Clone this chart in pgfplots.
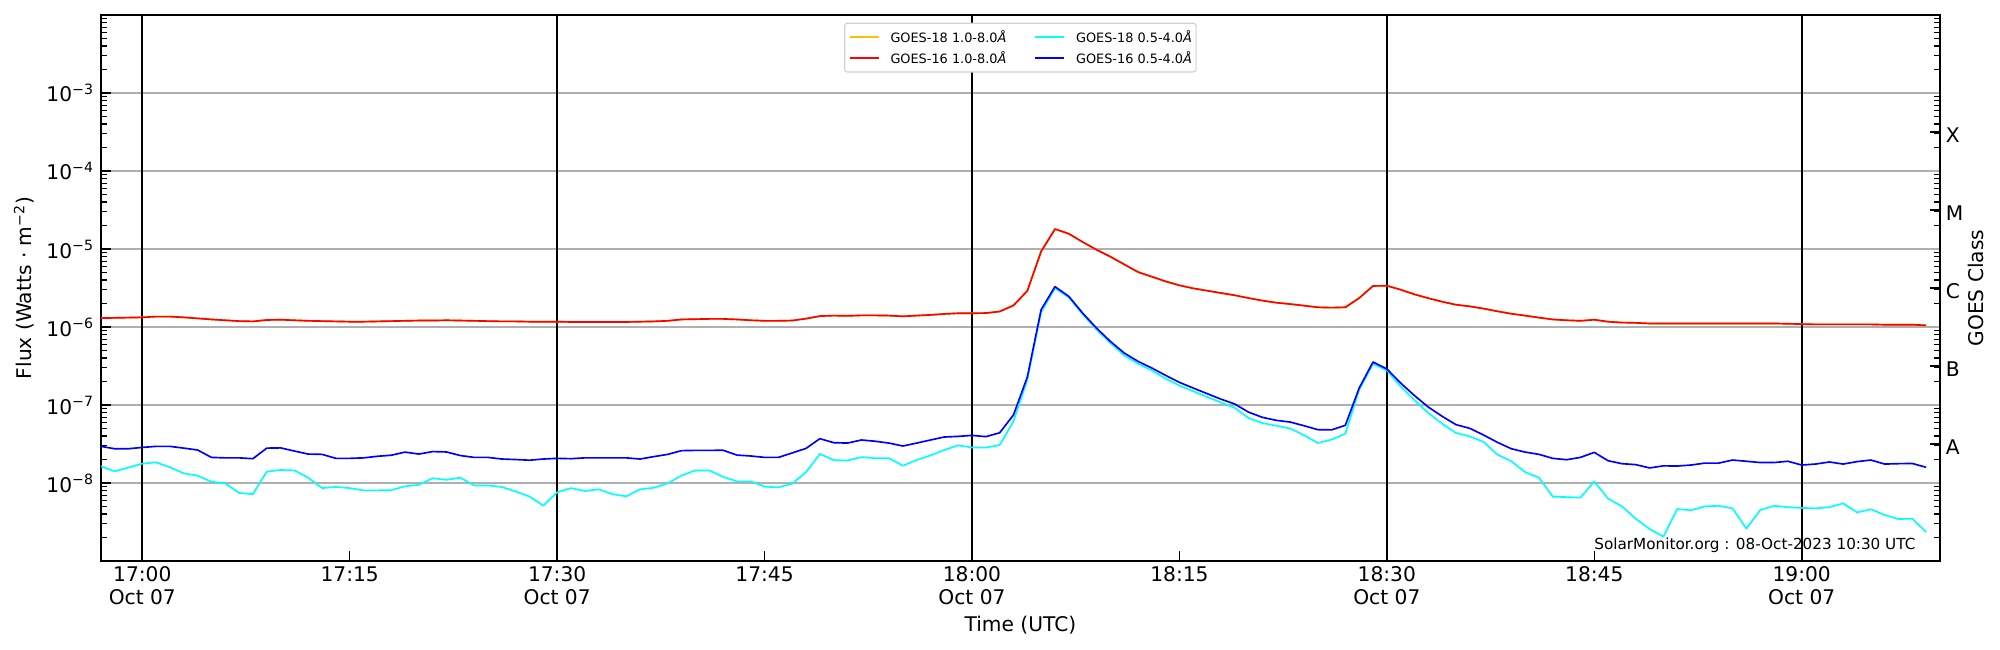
\documentclass[border=0pt]{standalone}
\usepackage{fontspec}
\setmainfont{DejaVu Sans}
\usepackage{pgfplots}
\usepackage{pgfplotstable}
\pgfplotsset{compat=1.18}

\definecolor{goesorange}{RGB}{255,190,0}
\definecolor{goescyan}{RGB}{0,255,255}
\definecolor{goesred}{RGB}{255,0,0}
\definecolor{goesblue}{RGB}{0,0,255}
\definecolor{gridgray}{RGB}{176,176,176}
\definecolor{legframe}{RGB}{210,210,210}
\newcommand{\mfont}{\fontsize{14.6}{16.3}\selectfont}

% GOES-16 1.0-8.0 A (minutes after 17:00 UT, W m^-2)
\pgfplotstableread{
x y
-3 1.30e-6
-2 1.31e-6
-1 1.32e-6
0 1.33e-6
1 1.36e-6
2 1.36e-6
3 1.33e-6
4 1.29e-6
5 1.25e-6
6 1.22e-6
7 1.19e-6
8 1.18e-6
9 1.23e-6
10 1.24e-6
11 1.22e-6
12 1.20e-6
13 1.19e-6
14 1.18e-6
15 1.17e-6
16 1.17e-6
17 1.18e-6
18 1.19e-6
19 1.20e-6
20 1.21e-6
21 1.21e-6
22 1.22e-6
23 1.21e-6
24 1.20e-6
25 1.19e-6
26 1.18e-6
27 1.18e-6
28 1.17e-6
29 1.17e-6
30 1.17e-6
31 1.16e-6
32 1.16e-6
33 1.16e-6
34 1.16e-6
35 1.16e-6
36 1.17e-6
37 1.18e-6
38 1.20e-6
39 1.25e-6
40 1.26e-6
41 1.27e-6
42 1.27e-6
43 1.25e-6
44 1.22e-6
45 1.20e-6
46 1.20e-6
47 1.21e-6
48 1.28e-6
49 1.38e-6
50 1.40e-6
51 1.39e-6
52 1.41e-6
53 1.41e-6
54 1.40e-6
55 1.37e-6
56 1.40e-6
57 1.43e-6
58 1.47e-6
59 1.50e-6
60 1.50e-6
61 1.51e-6
62 1.58e-6
63 1.89e-6
64 2.90e-6
65 9.30e-6
66 1.80e-5
67 1.57e-5
68 1.23e-5
69 9.80e-6
70 7.98e-6
71 6.36e-6
72 5.07e-6
73 4.42e-6
74 3.85e-6
75 3.42e-6
76 3.13e-6
77 2.92e-6
78 2.73e-6
79 2.55e-6
80 2.35e-6
81 2.18e-6
82 2.05e-6
83 1.97e-6
84 1.88e-6
85 1.79e-6
86 1.77e-6
87 1.79e-6
88 2.35e-6
89 3.36e-6
90 3.38e-6
91 3.01e-6
92 2.62e-6
93 2.34e-6
94 2.11e-6
95 1.93e-6
96 1.84e-6
97 1.72e-6
98 1.59e-6
99 1.48e-6
100 1.40e-6
101 1.32e-6
102 1.25e-6
103 1.22e-6
104 1.20e-6
105 1.24e-6
106 1.17e-6
107 1.14e-6
108 1.13e-6
109 1.11e-6
110 1.11e-6
111 1.11e-6
112 1.11e-6
113 1.11e-6
114 1.11e-6
115 1.11e-6
116 1.11e-6
117 1.11e-6
118 1.11e-6
119 1.10e-6
120 1.09e-6
121 1.08e-6
122 1.08e-6
123 1.08e-6
124 1.08e-6
125 1.08e-6
126 1.07e-6
127 1.07e-6
128 1.07e-6
129 1.05e-6
}\redtab

% GOES-16 0.5-4.0 A
\pgfplotstableread{
x y
-3 2.95e-8
-2 2.75e-8
-1 2.75e-8
0 2.86e-8
1 2.95e-8
2 2.95e-8
3 2.80e-8
4 2.65e-8
5 2.13e-8
6 2.10e-8
7 2.10e-8
8 2.05e-8
9 2.80e-8
10 2.82e-8
11 2.57e-8
12 2.35e-8
13 2.33e-8
14 2.07e-8
15 2.07e-8
16 2.10e-8
17 2.20e-8
18 2.27e-8
19 2.49e-8
20 2.35e-8
21 2.53e-8
22 2.50e-8
23 2.25e-8
24 2.13e-8
25 2.13e-8
26 2.03e-8
27 2.00e-8
28 1.96e-8
29 2.03e-8
30 2.07e-8
31 2.05e-8
32 2.10e-8
33 2.10e-8
34 2.10e-8
35 2.10e-8
36 2.03e-8
37 2.18e-8
38 2.33e-8
39 2.60e-8
40 2.62e-8
41 2.62e-8
42 2.63e-8
43 2.28e-8
44 2.22e-8
45 2.13e-8
46 2.13e-8
47 2.43e-8
48 2.78e-8
49 3.70e-8
50 3.29e-8
51 3.25e-8
52 3.56e-8
53 3.43e-8
54 3.25e-8
55 2.98e-8
56 3.25e-8
57 3.56e-8
58 3.89e-8
59 3.96e-8
60 4.08e-8
61 3.93e-8
62 4.40e-8
63 7.45e-8
64 2.28e-7
65 1.67e-6
66 3.29e-6
67 2.47e-6
68 1.51e-6
69 9.70e-7
70 6.55e-7
71 4.65e-7
72 3.63e-7
73 2.98e-7
74 2.40e-7
75 1.95e-7
76 1.65e-7
77 1.40e-7
78 1.19e-7
79 1.03e-7
80 8.10e-8
81 6.95e-8
82 6.36e-8
83 6.05e-8
84 5.43e-8
85 4.83e-8
86 4.80e-8
87 5.50e-8
88 1.65e-7
89 3.56e-7
90 2.90e-7
91 1.91e-7
92 1.32e-7
93 9.40e-8
94 7.16e-8
95 5.60e-8
96 5.02e-8
97 4.12e-8
98 3.32e-8
99 2.75e-8
100 2.49e-8
101 2.33e-8
102 2.07e-8
103 1.99e-8
104 2.13e-8
105 2.47e-8
106 1.93e-8
107 1.77e-8
108 1.72e-8
109 1.56e-8
110 1.66e-8
111 1.65e-8
112 1.70e-8
113 1.80e-8
114 1.80e-8
115 1.97e-8
116 1.90e-8
117 1.83e-8
118 1.83e-8
119 1.90e-8
120 1.70e-8
121 1.75e-8
122 1.86e-8
123 1.75e-8
124 1.88e-8
125 1.97e-8
126 1.75e-8
127 1.77e-8
128 1.78e-8
129 1.59e-8
}\bluetab

% GOES-18 0.5-4.0 A
\pgfplotstableread{
x y
-3 1.64e-8
-2 1.41e-8
-1 1.58e-8
0 1.77e-8
1 1.84e-8
2 1.59e-8
3 1.33e-8
4 1.24e-8
5 1.04e-8
6 9.90e-9
7 7.45e-9
8 7.20e-9
9 1.40e-8
10 1.47e-8
11 1.45e-8
12 1.17e-8
13 8.60e-9
14 8.90e-9
15 8.60e-9
16 8.05e-9
17 8.05e-9
18 8.10e-9
19 9.06e-9
20 9.50e-9
21 1.15e-8
22 1.10e-8
23 1.17e-8
24 9.30e-9
25 9.30e-9
26 8.90e-9
27 7.80e-9
28 6.70e-9
29 5.13e-9
30 7.60e-9
31 8.60e-9
32 7.90e-9
33 8.30e-9
34 7.20e-9
35 6.75e-9
36 8.30e-9
37 8.70e-9
38 9.90e-9
39 1.25e-8
40 1.45e-8
41 1.45e-8
42 1.20e-8
43 1.05e-8
44 1.05e-8
45 8.97e-9
46 8.80e-9
47 9.80e-9
48 1.38e-8
49 2.36e-8
50 1.97e-8
51 1.94e-8
52 2.15e-8
53 2.08e-8
54 2.08e-8
55 1.67e-8
56 1.97e-8
57 2.26e-8
58 2.65e-8
59 3.04e-8
60 2.85e-8
61 2.84e-8
62 3.07e-8
63 6.18e-8
64 2.11e-7
65 1.55e-6
66 3.15e-6
67 2.40e-6
68 1.46e-6
69 9.30e-7
70 6.25e-7
71 4.34e-7
72 3.39e-7
73 2.78e-7
74 2.18e-7
75 1.77e-7
76 1.50e-7
77 1.27e-7
78 1.08e-7
79 9.20e-8
80 6.80e-8
81 5.87e-8
82 5.43e-8
83 5.00e-8
84 4.12e-8
85 3.26e-8
86 3.60e-8
87 4.29e-8
88 1.57e-7
89 3.36e-7
90 2.78e-7
91 1.73e-7
92 1.15e-7
93 7.90e-8
94 5.76e-8
95 4.38e-8
96 3.96e-8
97 3.36e-8
98 2.31e-8
99 1.90e-8
100 1.38e-8
101 1.17e-8
102 6.68e-9
103 6.60e-9
104 6.50e-9
105 1.05e-8
106 6.30e-9
107 5.02e-9
108 3.49e-9
109 2.57e-9
110 2.05e-9
111 4.64e-9
112 4.47e-9
113 5.02e-9
114 5.10e-9
115 4.73e-9
116 2.60e-9
117 4.50e-9
118 5.10e-9
119 4.90e-9
120 4.80e-9
121 4.73e-9
122 4.90e-9
123 5.48e-9
124 4.20e-9
125 4.60e-9
126 3.89e-9
127 3.45e-9
128 3.49e-9
129 2.35e-9
}\cyantab

\begin{document}
\begin{tikzpicture}
\useasboundingbox (0,0) rectangle (20in,6.5in);
\begin{axis}[
  at={(1.008in,0.89in)}, anchor=south west,
  scale only axis, width=18.392in, height=5.46in,
  xmin=-3, xmax=130,
  ymode=log, ymin=1e-9, ymax=1e-2,
  ytick={1e-8,1e-7,1e-6,1e-5,1e-4,1e-3},
  yticklabels={10\textsuperscript{−8},10\textsuperscript{−7},10\textsuperscript{−6},10\textsuperscript{−5},10\textsuperscript{−4},10\textsuperscript{−3}},
  minor ytick={2e-9,3e-9,4e-9,5e-9,6e-9,7e-9,8e-9,9e-9,2e-8,3e-8,4e-8,5e-8,6e-8,7e-8,8e-8,9e-8,2e-7,3e-7,4e-7,5e-7,6e-7,7e-7,8e-7,9e-7,2e-6,3e-6,4e-6,5e-6,6e-6,7e-6,8e-6,9e-6,2e-5,3e-5,4e-5,5e-5,6e-5,7e-5,8e-5,9e-5,2e-4,3e-4,4e-4,5e-4,6e-4,7e-4,8e-4,9e-4,2e-3,3e-3,4e-3,5e-3,6e-3,7e-3,8e-3,9e-3},
  xtick={15,45,75,105},
  xticklabels={17:15,17:45,18:15,18:45},
  extra x ticks={0,30,60,90,120},
  extra x tick labels={17:00\\Oct 07,17:30\\Oct 07,18:00\\Oct 07,18:30\\Oct 07,19:00\\Oct 07},
  extra x tick style={grid=major, major grid style={black, line width=1.2pt}},
  xtick pos=bottom, ytick pos=left,
  tick align=inside,
  major tick length=0.1in, minor tick length=0.065in,
  every tick/.append style={black, line width=0.8pt},
  ymajorgrids, major grid style={gridgray, line width=0.9pt},
  axis line style={line width=1.1pt},
  xticklabel style={font=\mfont, align=center, anchor=north, inner sep=0pt, yshift=-4.1pt},
  yticklabel style={font=\mfont, anchor=base east, inner sep=0pt, xshift=-4.9pt, yshift=-6.5pt},
  xlabel={Time (UTC)},
  ylabel={Flux (Watts · m\textsuperscript{−2})},
  label style={font=\mfont},
  xlabel style={at={(rel axis cs:0.5,-0.1282)}, anchor=base},
  ylabel style={at={(rel axis cs:-0.03757,0.5)}, anchor=base},
  legend columns=2,
  legend cell align=left,
  legend image code/.code={\draw[#1] (0in,0in) -- (0.29in,0in);},
  legend style={
    at={(rel axis cs:0.5,0.986)}, anchor=north,
    draw=legframe, rounded corners=2pt, fill=white, line width=0.8pt,
    font=\fontsize{9.3}{11}\selectfont,
    inner xsep=3pt, inner ysep=5pt,
    row sep=5pt,
    nodes={inner sep=0pt},
    /tikz/every odd column/.append style={column sep=0.11in},
    /tikz/every even column/.append style={column sep=0.28in},
  },
  every axis plot/.append style={line width=1.2pt, line join=round},
]
\addplot[goesorange] table {\redtab};
\addlegendentry{GOES-18 1.0-8.0\textit{Å}}
\addplot[goescyan] table {\cyantab};
\addlegendentry{GOES-18 0.5-4.0\textit{Å}}
\addplot[goesred] table {\redtab};
\addlegendentry{GOES-16 1.0-8.0\textit{Å}}
\addplot[goesblue] table {\bluetab};
\addlegendentry{GOES-16 0.5-4.0\textit{Å}}
\node[anchor=base east, font=\fontsize{11}{13}\selectfont, inner sep=0pt] at (rel axis cs:0.9868,0.0214) {SolarMonitor.org : 08-Oct-2023 10:30 UTC};
\end{axis}
\begin{axis}[
  at={(1.008in,0.89in)}, anchor=south west,
  scale only axis, width=18.392in, height=5.46in,
  xmin=-3, xmax=130,
  ymode=log, ymin=1e-9, ymax=1e-2,
  axis x line=none, axis y line*=right,
  ytick={3.1623e-8,3.1623e-7,3.1623e-6,3.1623e-5,3.1623e-4},
  yticklabels={A,B,C,M,X},
  minor ytick={2e-9,3e-9,4e-9,5e-9,6e-9,7e-9,8e-9,9e-9,2e-8,3e-8,4e-8,5e-8,6e-8,7e-8,8e-8,9e-8,2e-7,3e-7,4e-7,5e-7,6e-7,7e-7,8e-7,9e-7,2e-6,3e-6,4e-6,5e-6,6e-6,7e-6,8e-6,9e-6,2e-5,3e-5,4e-5,5e-5,6e-5,7e-5,8e-5,9e-5,2e-4,3e-4,4e-4,5e-4,6e-4,7e-4,8e-4,9e-4,2e-3,3e-3,4e-3,5e-3,6e-3,7e-3,8e-3,9e-3},
  tick align=inside,
  major tick length=0.1in, minor tick length=0.065in,
  every tick/.append style={black, line width=0.8pt},
  axis line style={line width=1.1pt},
  yticklabel style={font=\mfont, anchor=west, inner sep=0pt, xshift=4.1pt, yshift=-2pt},
  ylabel={GOES Class},
  ylabel style={font=\mfont, at={(rel axis cs:1.02338,0.5)}, anchor=base},
]
\end{axis}
\end{tikzpicture}
\end{document}
